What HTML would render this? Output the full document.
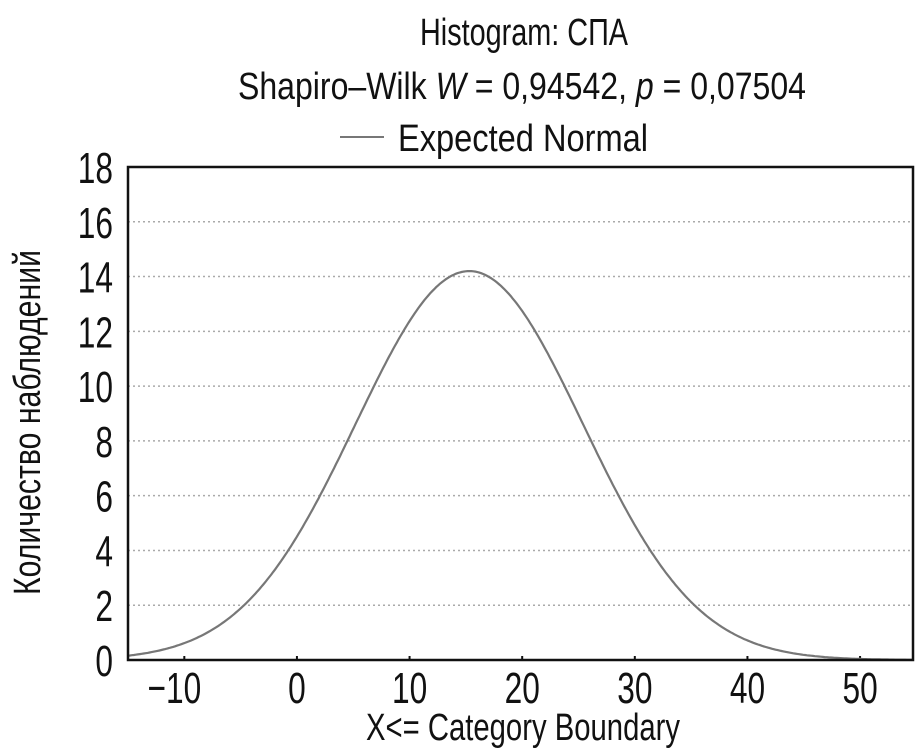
<!DOCTYPE html>
<html><head><meta charset="utf-8"><style>
html,body{margin:0;padding:0;background:#fff;}
svg{display:block;font-family:"Liberation Sans",sans-serif;}
</style></head><body>
<svg id="chart" width="916" height="752" viewBox="0 0 916 752">
<text x="420" y="45" font-size="38" textLength="208" lengthAdjust="spacingAndGlyphs" fill="#111">Histogram: СПА</text>
<text x="238" y="99" font-size="38" textLength="568" lengthAdjust="spacingAndGlyphs" fill="#111">Shapiro–Wilk <tspan font-style="italic">W</tspan> = 0,94542, <tspan font-style="italic">p</tspan> = 0,07504</text>
<g>
<line x1="340" y1="137" x2="384" y2="137" stroke="#777" stroke-width="2"/>
<text x="398" y="151" font-size="38" textLength="250" lengthAdjust="spacingAndGlyphs" fill="#111">Expected Normal</text>
</g>
<text transform="translate(40,595) rotate(-90)" font-size="38" textLength="345" lengthAdjust="spacingAndGlyphs" fill="#111">Количество наблюдений</text>
<text x="366" y="740" font-size="38" textLength="314" lengthAdjust="spacingAndGlyphs" fill="#111">X&lt;= Category Boundary</text>
<g id="grid"></g><g id="yticks"></g><g id="xticks"></g>
<path id="curve" fill="none" stroke="#777" stroke-width="2.2"/>
<rect x="128" y="167" width="785" height="493" fill="none" stroke="#111" stroke-width="2.5"/>
</svg>
<script>
const yTicks=[0,2,4,6,8,10,12,14,16,18];
const xTicks=[-10,0,10,20,30,40,50];
const normalMean=[15.3];
const normalSd=[10.1];
const normalPeak=[14.2];
const xDomain=[-15,54.7];
const yDomain=[0,18];
const L=128,R=913,T=167,B=660;
const sx=v=>L+(v-xDomain[0])/(xDomain[1]-xDomain[0])*(R-L);
const sy=v=>B-(v-yDomain[0])/(yDomain[1]-yDomain[0])*(B-T);
const NS="http://www.w3.org/2000/svg";
const g=document.getElementById('grid'),yt=document.getElementById('yticks'),xt=document.getElementById('xticks');
yTicks.forEach(v=>{
  if(v>0&&v<18){const l=document.createElementNS(NS,'line');
  
  
  l.setAttribute('x1',L);l.setAttribute('x2',R);l.setAttribute('y1',sy(v));l.setAttribute('y2',sy(v));
  l.setAttribute('stroke','#aaa');l.setAttribute('stroke-width','1.5');l.setAttribute('stroke-dasharray','2 3');g.appendChild(l);}
  const t=document.createElementNS(NS,'text');
  
  
  t.setAttribute('transform','translate(113,'+(sy(v)+16)+') scale(0.72,1)');
  t.setAttribute('text-anchor','end');t.setAttribute('font-size','44');t.setAttribute('fill','#111');
  t.textContent=v;yt.appendChild(t);
});
xTicks.forEach(v=>{
  const l=document.createElementNS(NS,'line');
  
  
  l.setAttribute('x1',sx(v));l.setAttribute('x2',sx(v));l.setAttribute('y1',B-4);l.setAttribute('y2',B);l.setAttribute('stroke','#111');l.setAttribute('stroke-width','2');xt.appendChild(l);
  const t=document.createElementNS(NS,'text');
  
  
  t.setAttribute('transform','translate('+(sx(v)-(v<0?10:0))+',703) scale(0.72,1)');
  t.setAttribute('text-anchor','middle');t.setAttribute('font-size','44');t.setAttribute('fill','#111');
  t.textContent=v<0?'\u2212'+Math.abs(v):v;xt.appendChild(t);
});
let d='';
for(let i=0;i<=400;i++){
  const x=xDomain[0]+(xDomain[1]-xDomain[0])*i/400;
  const y=normalPeak[0]*Math.exp(-Math.pow(x-normalMean[0],2)/(2*normalSd[0]*normalSd[0]));
  d+=(i?'L':'M')+sx(x).toFixed(1)+','+sy(y).toFixed(1);
}
document.getElementById('curve').setAttribute('d',d);
</script>
</body></html>
